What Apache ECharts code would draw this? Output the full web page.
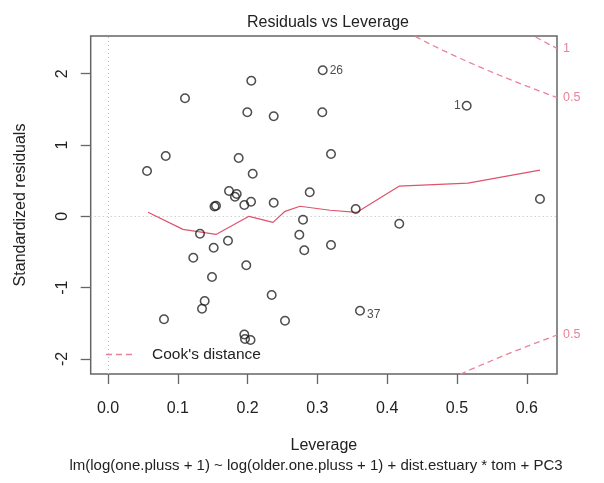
<!DOCTYPE html>
<html><head><meta charset="utf-8">
<script src="https://cdn.jsdelivr.net/npm/echarts@6/dist/echarts.min.js"></script>
<style>html,body{margin:0;padding:0;background:#fff}#c{width:604px;height:483px}</style>
</head><body><div id="c"></div>
<script>
// ---- data ----
const leverage = [0.0559,0.0827,0.1103,0.2053,0.1996,0.2374,0.3076,0.3070,0.1872,0.2073,
  0.3195,0.1734,0.1844,0.1819,0.2890,0.1547,0.1526,0.1953,0.2049,0.2374,
  0.1318,0.2794,0.2741,0.2812,0.3195,0.1514,0.1719,0.1222,0.1981,0.1490,
  0.1385,0.1347,0.2345,0.0802,0.2536,0.1953,0.1963,0.2042,0.5139,0.6189,
  0.3549,0.4173,0.3610];
const stdResid = [0.635,0.846,1.655,1.902,1.459,1.403,2.048,1.459,0.818,0.597,
  0.874,0.355,0.313,0.275,0.337,0.149,0.137,0.158,0.205,0.191,
  -0.244,-0.048,-0.258,-0.477,-0.403,-0.440,-0.342,-0.581,-0.687,-0.851,
  -1.188,-1.296,-1.104,-1.445,-1.464,-1.658,-1.721,-1.735,1.551,0.243,
  0.102,-0.104,-1.324];
const pointIds = ['','','','','','','26','','','','','','','','','','','','','','','','','','','','','','','','','','','','','','','','1','','','','37'];
const smoothX = [0.0573,0.1074,0.1547,0.2020,0.2364,0.2536,0.2751,0.3181,0.3567,0.4169,0.5158,0.6189];
const smoothY = [0.056,-0.183,-0.254,0.000,-0.085,0.070,0.141,0.085,0.056,0.423,0.465,0.648];
const cook05H = [0.44,0.46,0.48,0.50,0.52,0.54,0.56,0.58,0.60,0.62,0.6433];
const cook05Up = [2.523,2.423,2.327,2.236,2.148,2.064,1.982,1.903,1.826,1.751,1.665];
const cook05Low = [-2.523,-2.423,-2.327,-2.236,-2.148,-2.064,-1.982,-1.903,-1.826,-1.751,-1.665];
const cook1H = [0.60,0.61,0.62,0.63,0.6433];
const cook1Up = [2.582,2.529,2.476,2.423,2.355];
const xTicks = [0, 0.1, 0.2, 0.3, 0.4, 0.5, 0.6];
const yTicks = [-2, -1, 0, 1, 2];
const titleText = 'Residuals vs Leverage';
const subText = 'lm(log(one.pluss + 1) ~ log(older.one.pluss + 1) + dist.estuary * tom + PC3';
const xName = 'Leverage';
const yName = 'Standardized residuals';
const legendText = "Cook's distance";

const FONT = '"Liberation Sans", Arial, sans-serif';
const TXT = '#222';
const PINK = '#EA8399';
const RED = '#DF536B';
const AX = '#666';

function zip(a, b) { return a.map((v, i) => [v, b[i]]); }

const chart = echarts.init(document.getElementById('c'), null, { renderer: 'canvas' });
const cookSeries = (name, h, r, lab) => ({
  type: 'line', name, data: zip(h, r), showSymbol: false, symbol: 'none', clip: true, silent: true,
  lineStyle: { color: PINK, width: 1.3, type: [6, 4] },
  endLabel: { show: true, formatter: lab, distance: 6, color: PINK, fontSize: 12.5, fontFamily: FONT },
  labelLayout: { hideOverlap: false },
  z: 3
});

chart.setOption({
  animation: false,
  backgroundColor: '#fff',
  textStyle: { fontFamily: FONT },
  title: {
    text: titleText, left: 323, top: 10, textAlign: 'center',
    textStyle: { fontSize: 16, fontWeight: 'normal', color: TXT, fontFamily: FONT }
  },
  grid: { left: 90.7, right: 47, top: 36, bottom: 109, show: true, borderColor: AX, borderWidth: 1.5, backgroundColor: 'transparent', containLabel: false },
  xAxis: {
    type: 'value', min: -0.0248, max: 0.6433,
    name: xName, nameLocation: 'middle', nameGap: 64,
    nameTextStyle: { fontSize: 16, color: TXT, fontFamily: FONT },
    axisLine: { show: false, onZero: false },
    axisTick: { show: true, length: 10, customValues: xTicks, lineStyle: { color: AX, width: 1.3 } },
    axisLabel: { customValues: xTicks, formatter: v => v.toFixed(1), fontSize: 16, color: TXT, margin: 27, fontFamily: FONT },
    splitLine: { show: false }
  },
  yAxis: {
    type: 'value', min: -2.212, max: 2.529,
    name: yName, nameLocation: 'middle', nameGap: 62, nameRotate: 90,
    nameTextStyle: { fontSize: 16, color: TXT, fontFamily: FONT },
    axisLine: { show: false, onZero: false },
    axisTick: { show: true, length: 10, customValues: yTicks, lineStyle: { color: AX, width: 1.3 } },
    axisLabel: { customValues: yTicks, formatter: v => String(v), rotate: 90, fontSize: 16, color: TXT, margin: 20, fontFamily: FONT },
    splitLine: { show: false }
  },
  series: [
    {
      type: 'scatter', name: 'points',
      data: zip(leverage, stdResid).map((p, i) => pointIds[i] ? {
        value: p,
        label: {
          show: true, formatter: pointIds[i],
          position: pointIds[i] === '1' ? 'left' : 'right',
          distance: pointIds[i] === '1' ? 1 : 2,
          offset: pointIds[i] === '37' ? [0, 3.5] : [0, 0],
          fontSize: 12, color: TXT, fontFamily: FONT
        }
      } : p),
      symbol: 'circle', symbolSize: 8.5,
      itemStyle: { color: 'rgba(0,0,0,0)', borderColor: '#222', borderWidth: 1.5 },
      z: 5,
      markLine: {
        silent: true, symbol: 'none', label: { show: false },
        lineStyle: { color: '#bbb', type: [1, 3], width: 1 },
        data: [{ xAxis: 0 }, { yAxis: 0 }],
        z: 1
      }
    },
    {
      type: 'line', name: 'smooth', data: zip(smoothX, smoothY),
      showSymbol: false, symbol: 'none', silent: true,
      lineStyle: { color: RED, width: 1.2 }, z: 4
    },
    cookSeries('cook05up', cook05H, cook05Up, '0.5'),
    cookSeries('cook05low', cook05H, cook05Low, '0.5'),
    cookSeries('cook1', cook1H, cook1Up, '1')
  ],
  graphic: [
    { type: 'line', shape: { x1: 106, y1: 354.5, x2: 136, y2: 354.5 }, style: { stroke: PINK, lineWidth: 1.3, lineDash: [6, 4] } },
    { type: 'text', x: 152, y: 355, style: { text: legendText, fill: TXT, font: '15.5px ' + FONT, textVerticalAlign: 'middle' } },
    { type: 'text', x: 316, y: 466, style: { text: subText, fill: TXT, font: '15px ' + FONT, textAlign: 'center', textVerticalAlign: 'middle' } }
  ]
});
</script></body></html>
